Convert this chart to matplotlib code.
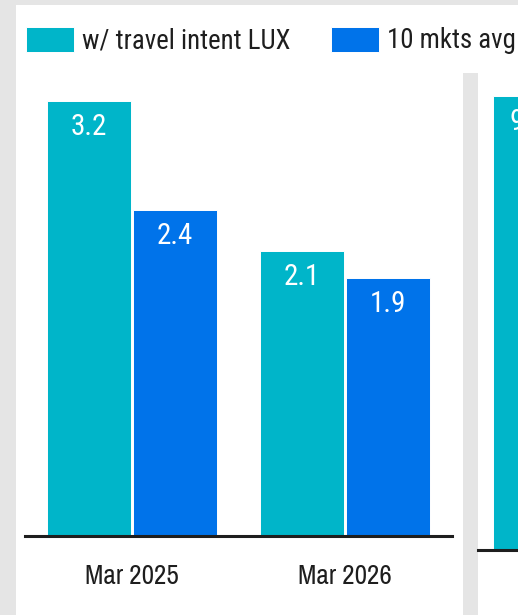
import matplotlib
matplotlib.use("Agg")
import matplotlib.pyplot as plt
from matplotlib.patches import Rectangle

W, H, DPI = 518, 615, 100

categories = ["Mar 2025", "Mar 2026"]
series_names = ["w/ travel intent LUX", "10 mkts avg"]
lux_values = [3.2, 2.1]
avg_values = [2.4, 1.9]
next_panel_values = [9.4]

CYAN = "#00b5c9"
BLUE = "#0073ea"
BG = "#e5e5e5"
TEXT = "#1e1e1e"
COND = ["Roboto Condensed", "DejaVu Sans"]
NARROW = ["Archivo Narrow", "Roboto Condensed", "DejaVu Sans"]

fig = plt.figure(figsize=(W / DPI, H / DPI), dpi=DPI)
fig.patch.set_facecolor(BG)


def fx(px):
    return px / W


def fy(py):
    return 1 - py / H


def white_box(x0, y0, x1, y1):
    fig.add_artist(Rectangle((fx(x0), fy(y1)), fx(x1) - fx(x0), fy(y0) - fy(y1),
                             transform=fig.transFigure, facecolor="white",
                             edgecolor="none", zorder=-5))


# card backgrounds
white_box(16, 5, W, 73)
white_box(16, 73, 463, H)
white_box(478, 73, W, H)

# main panel
ax = fig.add_axes([fx(25), fy(536), fx(452) - fx(25), fy(80) - fy(536)])
ax.set_facecolor("none")
x = list(range(len(categories)))
width, off = 0.394, 0.202
b1 = ax.bar([i - off for i in x], lux_values, width, color=CYAN,
            edgecolor="white", linewidth=0.7)
b2 = ax.bar([i + off for i in x], avg_values, width, color=BLUE,
            edgecolor="white", linewidth=0.7)
ax.set_xlim(-0.502, 1.502)
ax.set_ylim(0, 3.358)
ax.axhline(0, color=TEXT, lw=2.2, clip_on=False, zorder=3)
for s in ax.spines.values():
    s.set_visible(False)
ax.set_yticks([])
ax.set_xticks(x, categories)
ax.tick_params(axis="x", length=0, pad=20)
for lbl in ax.get_xticklabels():
    lbl.set_fontfamily(NARROW)
    lbl.set_fontsize(19.5)
    lbl.set_color(TEXT)

LABEL_KW = dict(xytext=(0, -18.5), textcoords="offset points", ha="center",
                va="center", color="white", fontsize=21, family=COND)

for cont, vals in ((b1, lux_values), (b2, avg_values)):
    for rect, v in zip(cont, vals):
        ax.annotate(f"{v:.1f}", (rect.get_x() + rect.get_width() / 2, v), **LABEL_KW)

# neighbouring panel (partly visible)
ax2 = fig.add_axes([fx(478), fy(550), 120 / W, (550 - 80) / H])
ax2.set_facecolor("none")
r2 = ax2.bar([0], next_panel_values, 1.0, color=CYAN, edgecolor="white", linewidth=0.7)
ax2.set_xlim(-0.714, 1.0)
ax2.set_ylim(0, 9.73)
ax2.axhline(0, color=TEXT, lw=2.2, clip_on=False, zorder=3)
for s in ax2.spines.values():
    s.set_visible(False)
ax2.set_xticks([])
ax2.set_yticks([])
for rect, v in zip(r2, next_panel_values):
    ax2.annotate(f"{v:.1f}", (rect.get_x() + rect.get_width() / 2, v), **LABEL_KW)

fig.legend(handles=[b1, b2], labels=series_names, loc="center left",
           bbox_to_anchor=(fx(26), fy(40.5)), ncol=2, frameon=False,
           prop={"family": COND, "size": 19.4}, labelcolor=TEXT,
           handlelength=48 / 27, handleheight=29 / 27, handletextpad=8 / 27,
           columnspacing=41 / 27, borderpad=0, borderaxespad=0)

fig.savefig("out.png", dpi=DPI, facecolor=BG)
